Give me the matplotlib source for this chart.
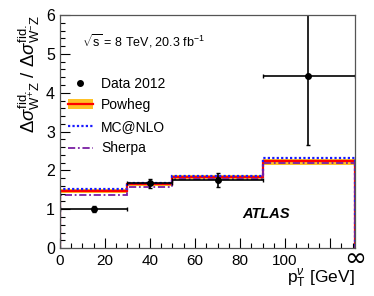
import numpy as np
import matplotlib.pyplot as plt
from matplotlib.patches import Patch
from matplotlib.lines import Line2D
from matplotlib.ticker import MultipleLocator

plt.rcParams['font.family'] = ['Liberation Sans', 'DejaVu Sans']
plt.rcParams['mathtext.fontset'] = 'custom'
plt.rcParams['mathtext.rm'] = 'Liberation Sans'
plt.rcParams['mathtext.it'] = 'Liberation Sans:italic'

# bin edges (last bin goes to infinity, drawn up to the axis edge)
edges = [0, 30, 50, 90, 131]
data_x = [15, 40, 70, 110]
data_xlo = [15, 10, 20, 20]
data_xhi = [15, 10, 20, 21]
data_y = [1.01, 1.67, 1.75, 4.43]
data_ylo = [0.07, 0.12, 0.19, 1.77]
data_yhi = [0.07, 0.12, 0.19, 1.70]

powheg = [1.47, 1.65, 1.83, 2.24]
powheg_lo = [1.43, 1.61, 1.79, 2.13]
powheg_hi = [1.52, 1.68, 1.87, 2.29]
mcatnlo = [1.53, 1.68, 1.85, 2.32]
sherpa = [1.37, 1.57, 1.78, 2.18]

fig = plt.figure(figsize=(3.74, 2.96), dpi=100)
ax = fig.add_axes([0.160, 0.162, 0.789, 0.787])

ax.stairs(powheg_hi, edges, baseline=powheg_lo, fill=True, color='#ffc125', lw=0)
ax.stairs(powheg, edges, color='red', lw=1.6)
ax.stairs(mcatnlo, edges, color='#1a1aff', lw=1.6, ls=(0, (1, 1)))
ax.stairs(sherpa, edges, color='#7a1fa2', lw=1.3, ls=(0, (4, 1.5, 1, 1.5)))

ax.errorbar(data_x, data_y, xerr=[data_xlo, data_xhi], yerr=[data_ylo, data_yhi],
            fmt='o', color='black', ms=4, lw=1.2, capsize=1.5, capthick=1.0)

ax.set_xlim(0, 131)
ax.set_ylim(0, 6)
ax.set_xticks([0, 20, 40, 60, 80, 100, 120])
ax.set_xticklabels(['0', '20', '40', '60', '80', '100', ''], fontsize=11)
ax.xaxis.set_minor_locator(MultipleLocator(5))
ax.yaxis.set_major_locator(MultipleLocator(1))
ax.yaxis.set_minor_locator(MultipleLocator(0.2))
ax.tick_params(axis='y', labelsize=11.5)
ax.tick_params(which='both', direction='in', top=False, right=False)
ax.tick_params(which='major', length=7, width=0.8)
ax.tick_params(which='minor', length=3.5, width=0.8)
ax.tick_params(axis='x', which='major', pad=4)
for s in ax.spines.values():
    s.set_color('#555555')
    s.set_linewidth(0.9)

ax.text(1.0, -0.045, '\u221e', transform=ax.transAxes, fontsize=19,
        ha='center', va='center', family='DejaVu Sans')

ax.set_xlabel(r'$\mathrm{p}_{\mathrm{T}}^{\nu}$ [GeV]', fontsize=12.5, loc='right', labelpad=0)
ax.set_ylabel(r'$\Delta\sigma^{\mathrm{fid.}}_{\mathrm{W^{+}Z}}\ /\ \Delta\sigma^{\mathrm{fid.}}_{\mathrm{W^{-}Z}}$',
              fontsize=13.5, loc='top', labelpad=3)

ax.text(0.075, 0.865, r'$\sqrt{\mathrm{s}}$ = 8 TeV, 20.3 fb$^{\mathrm{-1}}$', transform=ax.transAxes,
        fontsize=9)
ax.text(0.62, 0.13, 'ATLAS', transform=ax.transAxes, fontsize=10.5,
        fontweight='bold', fontstyle='italic')

handles = [
    Line2D([], [], color='black', marker='o', ls='none', ms=4),
    (Patch(color='#ffc125', lw=0), Line2D([], [], color='red', lw=1.6)),
    Line2D([], [], color='#1a1aff', lw=1.6, ls=(0, (1, 1))),
    Line2D([], [], color='#7a1fa2', lw=1.3, ls=(0, (4, 1.5, 1, 1.5))),
]
labels = ['Data 2012', 'Powheg', 'MC@NLO', 'Sherpa']
ax.legend(handles, labels, loc='upper left', bbox_to_anchor=(-0.015, 0.79), frameon=False,
          fontsize=10, handlelength=1.8, handletextpad=0.6, labelspacing=0.55)

fig.savefig('out.png', dpi=100)
